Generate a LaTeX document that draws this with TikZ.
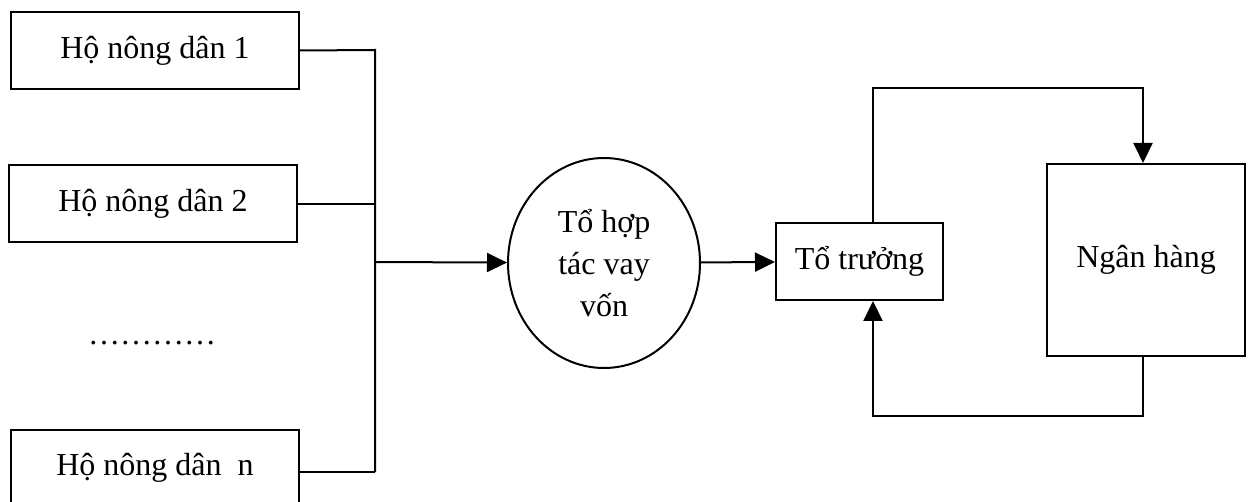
\documentclass[tikz,border=0pt]{standalone}
\usepackage{fontspec}
\setmainfont{Liberation Serif}
\usetikzlibrary{arrows.meta,positioning,shapes.geometric}

\begin{document}
\begin{tikzpicture}[x=0.5pt, y=-0.5pt, line width=1pt,
    every node/.style={
        rectangle,
        draw,
        inner sep=3pt,
        font=\fontsize{16}{21}\selectfont
    },
    hobox/.style={minimum width=144pt, minimum height=38.5pt},
    arr/.style={-{Triangle[length=10pt,width=9.5pt]}}
]
    \useasboundingbox (0,0) rectangle (1248,502);

    % households
    \node (ho_1) [hobox] at (155, 50.5) {Hộ nông dân 1};
    \node (ho_2) [hobox] at (153, 204) {Hộ nông dân 2};
    \node (ho_dots) [draw=none] at (152, 343) {…………};
    \node (ho_n) [hobox] at (155, 468) {Hộ nông dân~ n};

    % group, leader, bank
    \node (to_hop) [ellipse, minimum width=96pt, minimum height=105pt, align=center, inner sep=0pt]
        at (604, 263) {Tổ hợp\\tác vay\\vốn};
    \node (to_truong) [minimum width=83.5pt, minimum height=38.5pt] at (859.5, 261.5) {Tổ trưởng};
    \node (ngan_hang) [minimum width=99pt, minimum height=96pt] at (1146, 260) {Ngân hàng};

    \coordinate (bus_1) at (375, 50);
    \coordinate (bus_2) at (375, 204);
    \coordinate (bus_m) at (375, 262);
    \coordinate (bus_n) at (375, 472);

    \draw (ho_1.east) -- (bus_1) -- (bus_n);
    \draw (ho_2.east) -- (bus_2);
    \draw (ho_n.east |- bus_n) -- (bus_n);
    \draw[arr] (bus_m) -- (to_hop);
    \draw[arr] (to_hop) -- (to_truong);
    \draw[arr] ([xshift=6.75pt]to_truong.north) -- ++(0,-134) -| ([xshift=-1.5pt]ngan_hang.north);
    \draw[arr] ([xshift=-1.5pt]ngan_hang.south) -- ++(0,59) -| ([xshift=6.75pt]to_truong.south);
\end{tikzpicture}
\end{document}
